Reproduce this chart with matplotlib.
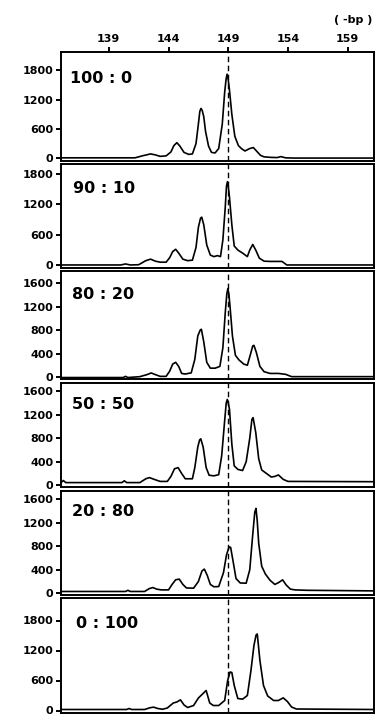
import matplotlib
matplotlib.use("Agg")
import matplotlib.pyplot as plt

# ---------------------------------------------------------------
# Dados (posicao em -bp, intensidade) ----------------------------
# ---------------------------------------------------------------

rotulos = ['100 : 0', '90 : 10', '80 : 20', '50 : 50', '20 : 80', '0 : 100']

x_100_0 = [135.0, 141.2, 141.8, 142.5, 142.9, 143.3, 143.8, 144.2, 144.45, 144.7, 144.95, 145.3, 145.7, 146.0,
           146.3, 146.5, 146.62, 146.72, 146.82, 146.95, 147.1, 147.35, 147.6, 147.9, 148.2, 148.5, 148.7, 148.82,
           148.9, 148.98, 149.1, 149.3, 149.55, 149.85, 150.1, 150.4, 150.8, 151.1, 151.4, 151.7, 152.0, 152.5,
           153.1, 153.4, 153.8, 154.5, 161.2]
y_100_0 = [10, 10, 50, 90, 70, 40, 50, 130, 260, 320, 250, 120, 80, 90,
           300, 700, 960, 1020, 980, 850, 550, 250, 120, 110, 200, 700, 1350, 1620,
           1720, 1640, 1400, 900, 450, 260, 200, 150, 200, 220, 140, 60, 30, 20,
           15, 35, 10, 5, 5]

x_90_10 = [135.0, 140.0, 140.4, 140.8, 141.5, 142.1, 142.5, 142.9, 143.3, 143.8, 144.1, 144.35, 144.6, 144.85,
           145.2, 145.6, 146.0, 146.3, 146.5, 146.68, 146.78, 146.95, 147.2, 147.5, 147.8, 148.1, 148.35, 148.55,
           148.75, 148.85, 148.93, 149.0, 149.1, 149.3, 149.5, 149.8, 150.2, 150.6, 150.8, 151.05, 151.3, 151.6,
           152.0, 152.5, 153.5, 153.9, 161.2]
y_90_10 = [5, 5, 25, 5, 10, 90, 120, 80, 60, 60, 150, 270, 315, 240,
           120, 90, 100, 350, 750, 930, 950, 800, 400, 200, 170, 190, 170, 500,
           1150, 1560, 1650, 1560, 1350, 800, 380, 300, 240, 170, 300, 410, 300, 140,
           80, 75, 75, 5, 5]

x_80_20 = [135.0, 140.2, 140.4, 140.6, 141.6, 142.2, 142.55, 142.9, 143.3, 143.8, 144.1, 144.35, 144.6, 144.85,
           145.1, 145.4, 145.9, 146.2, 146.45, 146.65, 146.75, 146.95, 147.2, 147.5, 147.9, 148.3, 148.55, 148.75,
           148.88, 148.97, 149.05, 149.15, 149.35, 149.6, 149.9, 150.3, 150.6, 150.85, 151.05, 151.15, 151.35,
           151.65, 152.0, 152.5, 153.2, 153.8, 154.3, 161.2]
y_80_20 = [-10, -10, 10, -10, 5, 40, 68, 40, 10, 10, 100, 220, 250, 180,
           60, 50, 70, 300, 700, 800, 815, 600, 250, 150, 150, 180, 500, 1100,
           1420, 1510, 1420, 1200, 700, 370, 290, 220, 200, 380, 530, 540, 420,
           180, 90, 60, 60, 45, 5, 5]

x_50_50 = [135.0, 135.2, 135.4, 140.1, 140.3, 140.5, 141.6, 142.1, 142.4, 142.8, 143.3, 143.9, 144.2, 144.5,
           144.8, 145.1, 145.4, 146.0, 146.2, 146.45, 146.6, 146.7, 146.9, 147.15, 147.4, 147.8, 148.2, 148.45,
           148.7, 148.83, 148.92, 149.0, 149.1, 149.3, 149.5, 149.8, 150.2, 150.5, 150.8, 150.98, 151.08, 151.3,
           151.55, 151.8, 152.2, 152.6, 152.9, 153.2, 153.6, 154.0, 161.2]
y_50_50 = [45, 80, 45, 45, 75, 45, 45, 110, 130, 100, 65, 65, 150, 280,
           300, 200, 110, 110, 300, 650, 770, 790, 650, 300, 170, 160, 180, 500,
           1100, 1400, 1460, 1400, 1300, 700, 330, 270, 250, 400, 800, 1120, 1150, 900,
           450, 260, 200, 140, 150, 175, 100, 65, 60]

x_20_80 = [135.0, 140.4, 140.6, 140.8, 142.0, 142.4, 142.7, 143.0, 143.4, 144.0, 144.3, 144.6, 144.9, 145.2,
           145.5, 146.1, 146.5, 146.8, 147.0, 147.25, 147.5, 147.8, 148.2, 148.6, 148.85, 149.07, 149.2, 149.4,
           149.65, 150.0, 150.5, 150.8, 151.05, 151.22, 151.32, 151.42, 151.55, 151.8, 152.1, 152.5, 152.9, 153.2,
           153.55, 153.85, 154.2, 154.6, 155.6, 161.2]
y_20_80 = [30, 30, 50, 30, 30, 80, 97, 70, 57, 57, 150, 230, 240, 150,
           90, 86, 200, 380, 411, 300, 150, 110, 114, 350, 650, 790, 780, 550,
           250, 175, 171, 400, 1000, 1380, 1445, 1250, 850, 460, 330, 220, 150, 180,
           228, 140, 70, 57, 50, 40]

x_0_100 = [135.0, 140.5, 140.7, 140.9, 142.0, 142.45, 142.75, 143.1, 143.5, 143.9, 144.4, 144.7, 145.0, 145.3,
           145.6, 146.1, 146.5, 146.85, 147.15, 147.45, 147.75, 148.2, 148.7, 148.95, 149.15, 149.3, 149.5, 149.8,
           150.2, 150.6, 150.9, 151.15, 151.33, 151.43, 151.65, 151.95, 152.3, 152.8, 153.2, 153.6, 153.95, 154.3,
           154.7, 161.2]
y_0_100 = [20, 20, 40, 20, 20, 55, 67, 40, 25, 50, 150, 170, 213, 110,
           60, 100, 250, 330, 400, 150, 100, 100, 200, 600, 770, 760, 500, 240,
           227, 300, 800, 1300, 1510, 1530, 1000, 500, 290, 200, 200, 253, 180, 70,
           30, 20]

xs = [x_100_0, x_90_10, x_80_20, x_50_50, x_20_80, x_0_100]
ys = [y_100_0, y_90_10, y_80_20, y_50_50, y_20_80, y_0_100]

yticks = [[0, 600, 1200, 1800], [0, 600, 1200, 1800],
          [0, 400, 800, 1200, 1600], [0, 400, 800, 1200, 1600],
          [0, 400, 800, 1200, 1600], [0, 600, 1200, 1800]]
ylims = [(-55, 2180), (-45, 2000), (-35, 1810), (-30, 1740), (-30, 1750), (-40, 2260)]

xticks_topo = [139, 144, 149, 154, 159]

# ---------------------------------------------------------------
# Layout (pixels) -----------------------------------------------
# ---------------------------------------------------------------

W, H = 378, 715
esq, dir_ = 61, 374
paineis_px = [(51.7, 161), (164, 267.5), (271, 379), (383, 487), (490.5, 595), (597.5, 712.5)]
desloc_rotulo = [(9, -19), (12, -17), (11, -16), (11, -14), (11, -13), (15, -18)]

plt.rcParams['font.family'] = 'DejaVu Sans'
plt.rcParams['font.weight'] = 'bold'

fig = plt.figure(figsize=(W / 100, H / 100), dpi=100)

for i in range(6):
    topo, base = paineis_px[i]
    ax = fig.add_axes([esq / W, 1 - base / H, (dir_ - esq) / W, (base - topo) / H])

    # curva do eletroferograma
    ax.plot(xs[i], ys[i], color='black', linewidth=1.2, solid_joinstyle='round')
    # linha de referencia em 149 bp
    ax.axvline(149, color='black', linewidth=1.0, linestyle=(0, (4, 2.5)))

    ax.set_xlim(135.0, 161.2)
    ax.set_ylim(ylims[i])
    ax.set_yticks(yticks[i])
    ax.set_yticklabels([str(v) for v in yticks[i]], fontsize=8, fontweight='bold')

    for s in ax.spines.values():
        s.set_linewidth(1.4)

    ax.tick_params(axis='y', direction='out', length=3.6, width=1.4, pad=2)

    if i == 0:
        ax.xaxis.tick_top()
        ax.set_xticks(xticks_topo)
        ax.set_xticklabels([str(v) for v in xticks_topo], fontsize=8, fontweight='bold')
        ax.tick_params(axis='x', direction='out', length=3.6, width=1.4, pad=2)
    else:
        ax.set_xticks([])

    dx, dy = desloc_rotulo[i]
    ax.annotate(rotulos[i], xy=(0, 1), xycoords='axes fraction',
                xytext=(dx, dy), textcoords='offset pixels',
                ha='left', va='top', fontsize=11.5, fontweight='bold')

fig.text(353 / W, 1 - 20 / H, '( -bp )', ha='center', va='center', fontsize=8, fontweight='bold')

plt.savefig('out.png', dpi=100)
